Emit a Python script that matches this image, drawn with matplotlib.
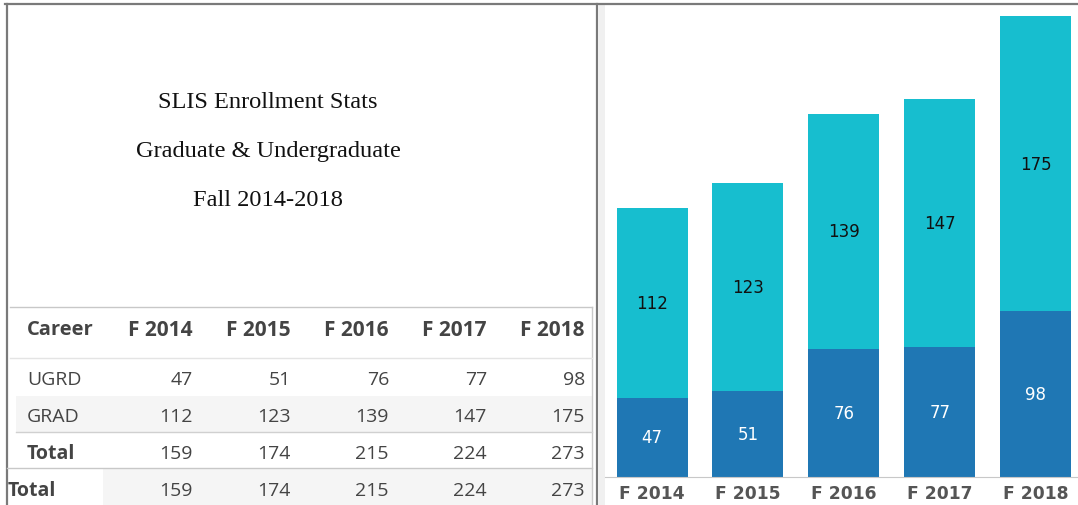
import matplotlib.pyplot as plt
from matplotlib.patches import Rectangle

# ---- data ----
terms = ["F 2014", "F 2015", "F 2016", "F 2017", "F 2018"]
ugrd = [47, 51, 76, 77, 98]
grad = [112, 123, 139, 147, 175]
total = [159, 174, 215, 224, 273]

title_lines = ["SLIS Enrollment Stats", "Graduate & Undergraduate", "Fall 2014-2018"]

W, H = 1078, 506
fig = plt.figure(figsize=(W / 100, H / 100), dpi=100)

# full-figure overlay in pixel coordinates for the left panel
bg = fig.add_axes([0, 0, 1, 1])
bg.set_xlim(0, W)
bg.set_ylim(H, 0)
bg.axis("off")

# outer frame lines
bg.plot([5, W], [5, 5], color="#7a7a7a", lw=1.6)
bg.plot([7, 7], [5, H], color="#7a7a7a", lw=1.6)
bg.plot([597, 597], [5, H], color="#7a7a7a", lw=1.6)
bg.add_patch(Rectangle((599, 6), 6, H, color="#f0f0f0", lw=0))

# title block
for i, line in enumerate(title_lines):
    bg.text(268, 102 + 49 * i, line, ha="center", va="center",
            family="Liberation Serif", fontsize=17.6, color="#111111")

# table
txt = "#444444"
tf = "Open Sans"
col_right = [193, 291, 389, 487, 585]
bg.plot([10, 592], [308, 308], color="#c8c8c8", lw=1)
bg.plot([592, 592], [308, H], color="#c8c8c8", lw=1)
bg.plot([10, 592], [359, 359], color="#e4e4e4", lw=1)
bg.add_patch(Rectangle((16, 397), 576, 36, color="#f5f5f5", lw=0))
bg.plot([16, 592], [433, 433], color="#d0d0d0", lw=1)
bg.add_patch(Rectangle((103, 470), 489, 36, color="#f5f5f5", lw=0))
bg.plot([7, 592], [469, 469], color="#c8c8c8", lw=1)

bg.text(27, 330, "Career", ha="left", va="center", family=tf,
        fontweight="bold", fontsize=14.5, color=txt)
for x, t in zip(col_right, terms):
    bg.text(x, 330, t, ha="right", va="center", family=tf,
            fontweight="bold", fontsize=15, color=txt)

rows = [("UGRD", ugrd, 380, 27, "normal"),
        ("GRAD", grad, 417, 27, "normal"),
        ("Total", total, 454, 27, "bold"),
        ("Total", total, 491, 8, "bold")]
for name, vals, y, x0, w in rows:
    bg.text(x0, y, name, ha="left", va="center", family=tf,
            fontweight=w, fontsize=14, color=txt)
    for x, v in zip(col_right, vals):
        bg.text(x, y, str(v), ha="right", va="center", family=tf,
                fontsize=14, color=txt)

# ---- stacked bar chart ----
ax_l, ax_r, ax_top, ax_bot = 605, W, 5, 478
ax = fig.add_axes([ax_l / W, 1 - ax_bot / H, (ax_r - ax_l) / W, (ax_bot - ax_top) / H])
ax.patch.set_alpha(0)
xs = list(range(len(terms)))
light = "#17becf"
dark = "#1f77b4"
ax.bar(xs, ugrd, width=0.74, color=dark)
ax.bar(xs, grad, width=0.74, bottom=ugrd, color=light)
for x, u, g in zip(xs, ugrd, grad):
    ax.text(x, u / 2, str(u), ha="center", va="center", color="white",
            fontsize=12, family="DejaVu Sans")
    ax.text(x, u + g / 2, str(g), ha="center", va="center", color="#111111",
            fontsize=12, family="DejaVu Sans")

ax.set_xlim(-0.49, 4.44)
ax.set_ylim(0, (ax_bot - ax_top) / 1.689)
for s in ["top", "right", "left"]:
    ax.spines[s].set_visible(False)
ax.spines["bottom"].set_color("#c8c8c8")
ax.spines["bottom"].set_linestyle((0, (2, 1)))
ax.set_yticks([])
ax.set_xticks(xs)
ax.set_xticklabels(terms, fontweight="bold", fontsize=12.3, color="#555555",
                   family="DejaVu Sans")
ax.tick_params(axis="x", length=0, pad=5)

fig.savefig("out.png", dpi=100)
